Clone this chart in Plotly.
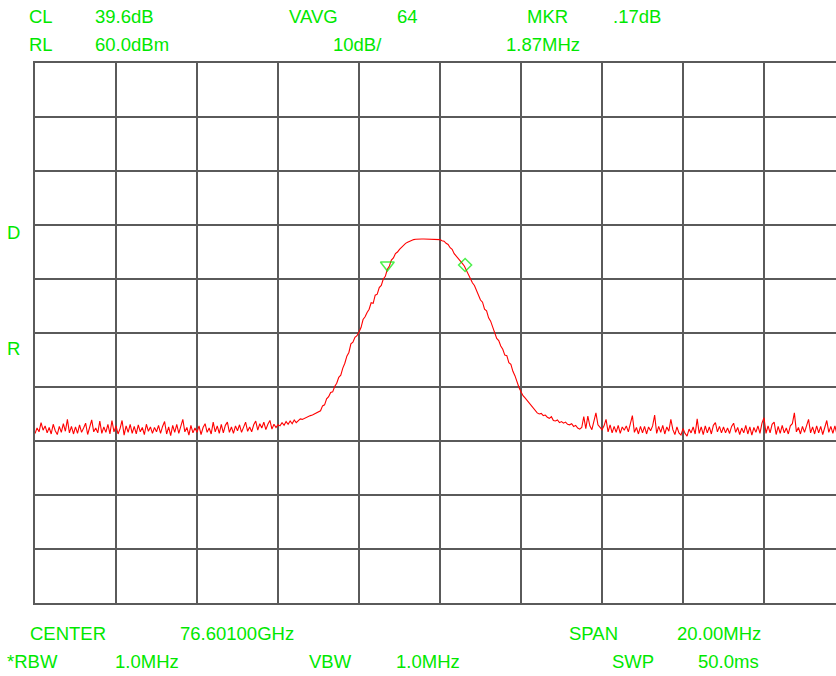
import numpy as np
import plotly.graph_objects as go

# ---- data ----
center_ghz = 76.601
span_mhz = 20.0
ref_level_dbm = 60.0
db_per_div = 10.0

# trace levels in dBm, 401 points from -10 MHz to +10 MHz offset (0.05 MHz step)
trace_dbm = [
    -8.6,-7.6,-8.3,-6.6,-8.0,-7.2,-8.5,-7.5,-8.7,-6.9,-8.1,-8.8,-7.3,-8.4,-6.8,-8.2,-6.0,-8.5,-7.3,-8.7,
    -7.4,-8.6,-7.0,-8.4,-7.6,-6.7,-8.8,-7.3,-6.1,-8.3,-7.6,-8.5,-6.3,-8.6,-7.4,-8.4,-6.9,-8.7,-6.2,-8.3,
    -7.2,-8.7,-7.7,-6.2,-8.9,-7.2,-8.4,-6.9,-8.6,-7.3,-8.7,-7.0,-8.3,-7.5,-8.8,-6.9,-8.2,-7.4,-8.6,-7.5,
    -8.3,-7.1,-8.6,-7.3,-6.4,-8.7,-7.4,-9.0,-7.1,-8.4,-6.9,-8.6,-7.2,-6.0,-8.3,-7.5,-8.9,-7.1,-8.5,-7.6,
    -8.4,-7.2,-8.8,-7.5,-6.8,-8.4,-7.6,-8.7,-6.5,-8.3,-7.2,-8.6,-6.9,-8.5,-7.1,-6.5,-8.4,-7.4,-8.6,-7.2,
    -8.1,-7.0,-8.4,-7.3,-6.5,-8.2,-7.4,-8.3,-7.0,-6.3,-8.0,-6.8,-7.6,-6.5,-7.9,-6.9,-6.2,-7.8,-6.9,-7.5,
    -7.0,-7.2,-6.6,-7.1,-6.4,-6.9,-6.3,-6.8,-6.1,-6.6,-6.2,-5.9,-6.0,-5.8,-5.6,-5.5,-5.3,-5.2,-5.0,-4.8,
    -4.6,-4.4,-3.5,-3.3,-2.2,-1.8,-1.0,-0.9,0.1,0.7,1.8,2.2,3.5,4.4,5.7,6.4,8.0,8.3,9.2,9.5,
    10.2,11.0,12.5,13.0,13.8,14.4,15.6,15.5,17.0,17.2,18.4,18.8,20.0,20.5,21.8,22.4,23.5,23.9,24.7,25.0,
    25.5,25.9,26.2,26.6,26.8,27.0,27.1,27.3,27.35,27.4,27.4,27.4,27.4,27.4,27.4,27.4,27.4,27.4,27.4,27.4,
    27.3,27.1,27.0,26.6,26.4,25.8,25.5,24.7,24.3,23.9,23.3,22.9,22.4,21.6,21.0,20.3,19.3,18.8,17.8,16.9,
    16.1,15.7,14.4,14.1,12.8,12.2,11.0,10.2,9.0,8.6,7.6,7.0,5.9,5.8,4.5,4.2,2.9,2.1,0.9,-0.1,
    -0.9,-1.6,-2.0,-2.5,-3.0,-3.5,-4.0,-4.5,-4.8,-5.0,-4.9,-5.3,-5.2,-5.6,-5.8,-5.5,-6.2,-6.3,-6.1,-6.6,
    -6.4,-6.7,-6.5,-6.9,-7.0,-6.8,-7.3,-7.1,-7.6,-7.8,-7.5,-5.5,-7.7,-5.4,-7.2,-7.9,-6.4,-4.8,-7.0,-7.4,
    -7.9,-7.2,-6.0,-8.3,-7.0,-8.5,-7.3,-8.4,-7.1,-8.6,-7.4,-8.0,-7.2,-8.3,-6.8,-5.3,-8.4,-7.5,-8.7,-7.3,
    -8.5,-7.3,-8.7,-7.4,-8.1,-7.2,-5.2,-8.6,-7.3,-8.4,-7.1,-8.7,-7.4,-8.2,-6.0,-7.9,-8.8,-7.4,-8.5,-8.9,
    -7.7,-8.6,-9.1,-7.8,-8.5,-7.4,-8.7,-5.9,-8.6,-7.4,-8.8,-7.2,-8.5,-7.4,-8.7,-7.1,-6.6,-8.3,-7.3,-8.5,
    -7.4,-8.5,-7.6,-8.6,-7.3,-6.7,-8.4,-7.5,-8.8,-7.6,-8.5,-7.1,-8.7,-7.4,-8.9,-7.5,-8.4,-7.2,-8.6,-6.7,
    -5.7,-8.6,-7.2,-8.5,-6.9,-6.5,-8.8,-7.3,-8.6,-7.1,-8.5,-7.6,-8.7,-7.2,-6.8,-4.8,-8.3,-7.5,-8.7,-7.3,
    -8.4,-7.3,-6.0,-8.5,-7.4,-8.7,-7.2,-8.5,-7.3,-8.8,-7.6,-6.2,-8.4,-7.3,-8.6,-7.2,-8.7,-7.4,-8.5,-7.6,
    -8.0,
]
trace_offset_mhz = np.linspace(-span_mhz / 2, span_mhz / 2, len(trace_dbm))

# markers (offset MHz, level dBm)
marker_offset_mhz = [-1.30, 0.62]
marker_level_dbm = [22.6, 22.6]
marker_symbols = ["triangle-down-open", "diamond-open"]
marker_sizes = [12, 10]

# header / footer labels: (text, x px, y px)
labels = [
    ("CL", 28, 16), ("39.6dB", 94, 16), ("VAVG", 288, 16), ("64", 396, 16),
    ("MKR", 526, 16), (".17dB", 612, 16),
    ("RL", 28, 45), ("60.0dBm", 94, 45), ("10dB/", 332, 45), ("1.87MHz", 505, 45),
    ("D", 6, 233), ("R", 6, 348),
    ("CENTER", 29, 633.5), ("76.60100GHz", 179, 633.5), ("SPAN", 568, 633.5), ("20.00MHz", 676, 633.5),
    ("*RBW", 6, 661.5), ("1.0MHz", 114, 661.5), ("VBW", 308, 661.5), ("1.0MHz", 395, 661.5),
    ("SWP", 611, 661.5), ("50.0ms", 697, 661.5),
]

# ---- figure ----
W, H = 836, 676
L, R, T, B = 35, 0, 63, 73
GREEN = "#00e800"
FONT = "Liberation Sans, Arial, Helvetica, sans-serif"

fig = go.Figure()
fig.add_trace(go.Scatter(
    x=trace_offset_mhz, y=trace_dbm, mode="lines",
    line=dict(color="#ff0000", width=1.1), hoverinfo="skip", showlegend=False,
))
fig.add_trace(go.Scatter(
    x=marker_offset_mhz, y=marker_level_dbm, mode="markers",
    marker=dict(symbol=marker_symbols, size=marker_sizes, color=GREEN,
                line=dict(color=GREEN, width=1.5)),
    hoverinfo="skip", showlegend=False,
))

px_per_mhz = 81.0 / 2.0
x_right = -span_mhz / 2 + (W - L) / px_per_mhz

def paper_x(px):
    return (px - L) / (W - L - R)

def paper_y(py):
    return (H - B - py) / (H - B - T)

for text, px, py in labels:
    fig.add_annotation(
        text=text, x=paper_x(px), y=paper_y(py), xref="paper", yref="paper",
        xanchor="left", yanchor="middle", showarrow=False, borderpad=0,
        font=dict(family=FONT, size=18.5, color=GREEN),
    )

GRID = "#5a5a5a"
fig.update_layout(
    width=W, height=H,
    margin=dict(l=L, r=R, t=T, b=B, pad=0),
    paper_bgcolor="white", plot_bgcolor="white",
    xaxis=dict(range=[-span_mhz / 2, x_right], tick0=-10, dtick=2, showgrid=True,
               gridcolor=GRID, gridwidth=1.5, zeroline=False, showticklabels=False,
               ticks="", showline=True, linecolor=GRID, linewidth=1.5, mirror=True),
    yaxis=dict(range=[ref_level_dbm - 10 * db_per_div, ref_level_dbm], tick0=-40, dtick=db_per_div,
               showgrid=True, gridcolor=GRID, gridwidth=1.5, zeroline=False,
               showticklabels=False, ticks="", showline=True, linecolor=GRID, linewidth=1.5),
)

fig.write_html("out.html", config={"displayModeBar": False},
               post_script="document.body.style.margin='0';")
